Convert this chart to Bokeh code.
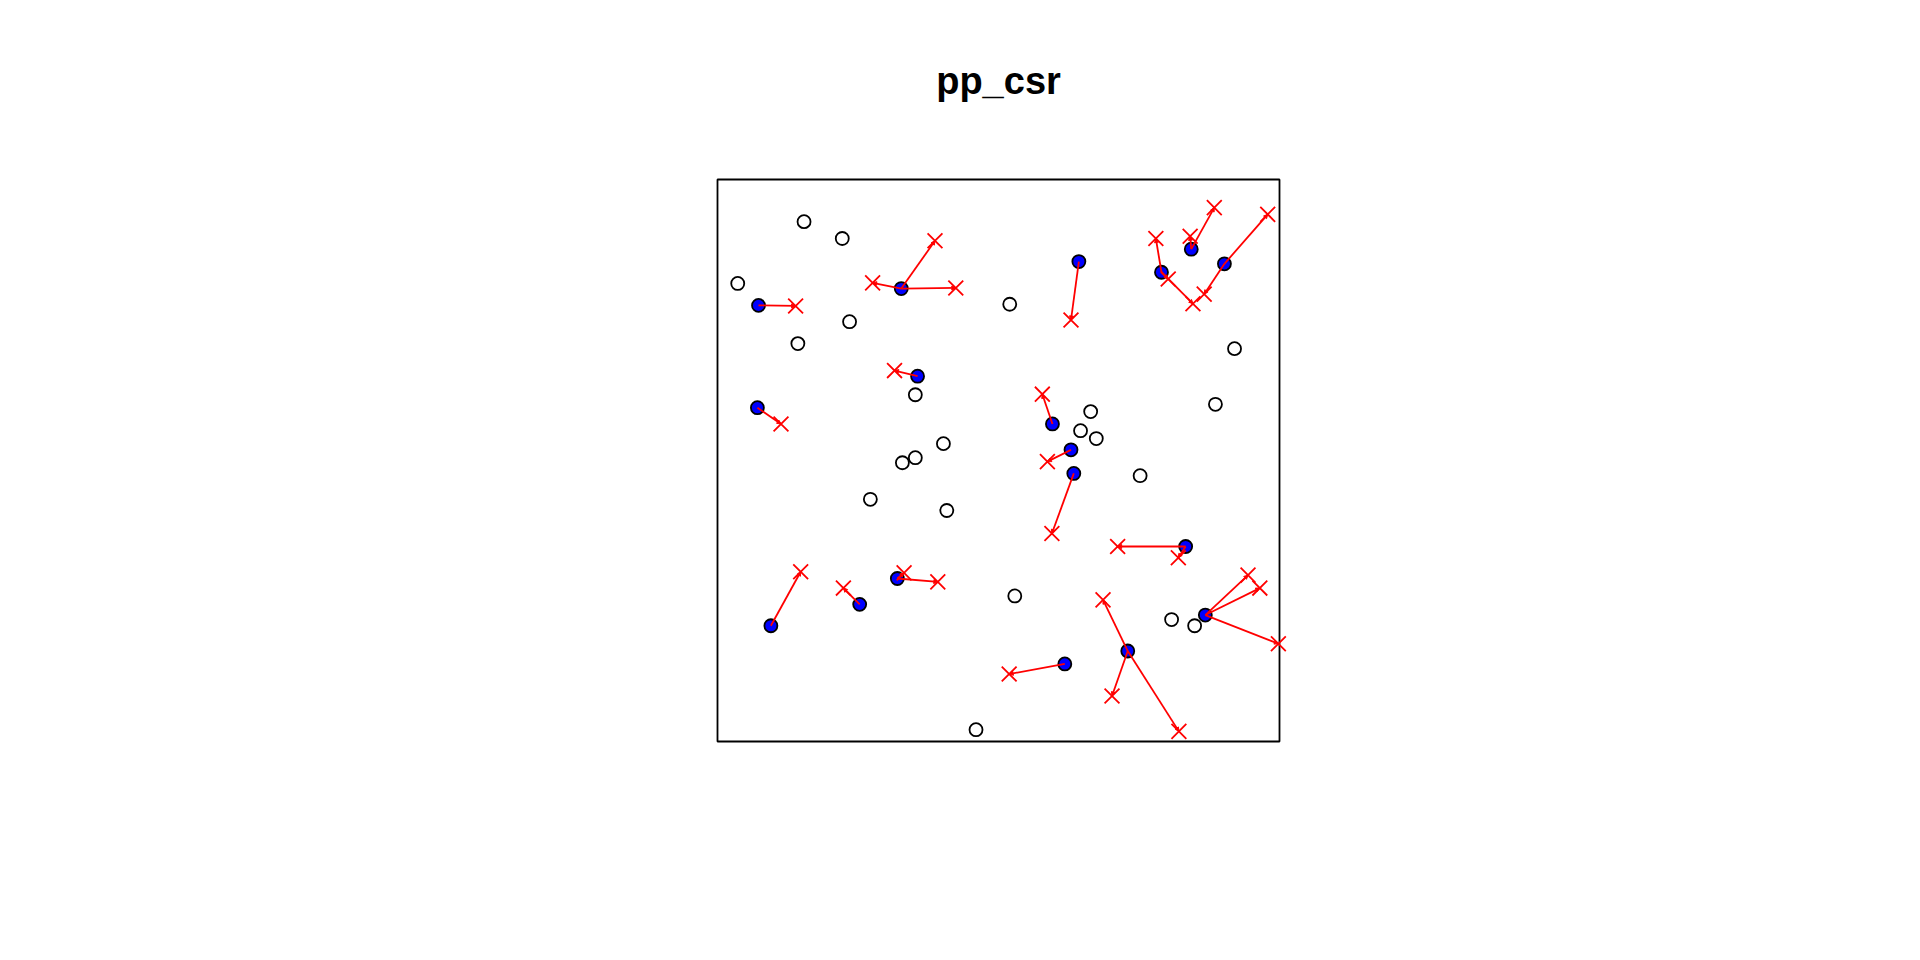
from bokeh.plotting import figure
from bokeh.models import Range1d, Arrow, NormalHead, ColumnDataSource
from bokeh.core.properties import value
from bokeh.embed import file_html
from bokeh.resources import INLINE

#-------------- data (unit square window) --------------#
# points of the pattern that are not selected
csr_x = [0.154, 0.222, 0.036, 0.235, 0.143, 0.352, 0.402, 0.352, 0.329, 0.272, 0.408,
         0.460, 0.520, 0.920, 0.886, 0.664, 0.646, 0.674, 0.752, 0.529, 0.808, 0.849]
csr_y = [0.925, 0.895, 0.815, 0.747, 0.708, 0.617, 0.530, 0.505, 0.496, 0.431, 0.411,
         0.021, 0.778, 0.699, 0.600, 0.587, 0.553, 0.539, 0.473, 0.259, 0.217, 0.206]

# selected points (filled blue)
sel_x = [0.073, 0.327, 0.356, 0.071, 0.643, 0.790, 0.843, 0.902, 0.596,
         0.629, 0.634, 0.833, 0.868, 0.730, 0.618, 0.095, 0.253, 0.320]
sel_y = [0.776, 0.806, 0.650, 0.594, 0.854, 0.835, 0.876, 0.850, 0.565,
         0.519, 0.477, 0.347, 0.225, 0.161, 0.138, 0.206, 0.244, 0.290]

# crosses and the selected point each one is joined to
cross_x = [0.139, 0.387, 0.424, 0.276, 0.315, 0.113, 0.629, 0.780, 0.802, 0.846,
           0.841, 0.884, 0.979, 0.866, 0.578, 0.587, 0.595, 0.712, 0.820, 0.944,
           0.965, 0.998, 0.686, 0.702, 0.821, 0.519, 0.148, 0.224, 0.332, 0.392]
cross_y = [0.775, 0.891, 0.807, 0.816, 0.660, 0.565, 0.750, 0.895, 0.823, 0.779,
           0.899, 0.950, 0.938, 0.796, 0.618, 0.498, 0.370, 0.347, 0.327, 0.296,
           0.273, 0.174, 0.252, 0.081, 0.018, 0.120, 0.302, 0.273, 0.300, 0.284]
cross_from = [0, 1, 1, 1, 2, 3, 4, 5, 5, 5,
              6, 6, 7, 7, 8, 9, 10, 11, 11, 12,
              12, 12, 13, 13, 13, 14, 15, 16, 17, 17]

title = "pp_csr"
#-------------------------------------------------------#

# the frame covers the whole canvas; the unit window sits at 717..1279 x 179..741 px
W, H = 1904, 944
win_left, win_top, win_size = 717, 179, 562
x_range = Range1d(-win_left / win_size, (W - win_left) / win_size)
y_range = Range1d(-(H - win_top - win_size) / win_size, 1 + win_top / win_size)

p = figure(width=W, height=H, output_backend="svg", toolbar_location=None,
           x_range=x_range, y_range=y_range,
           x_axis_location=None, y_axis_location=None, min_border=0)

p.grid.visible = False
p.outline_line_color = None
p.background_fill_color = "white"
p.border_fill_color = "white"

# window border
p.quad(left=[0], right=[1], bottom=[0], top=[1], fill_color=None,
       line_color="black", line_width=1.8)

# title above the window
p.text(x=[0.5], y=[1 + 99 / win_size], text=[title], text_align="center",
       text_baseline="alphabetic", text_font=value("Liberation Sans"),
       text_font_size="38px", text_font_style="bold", text_color="black")

# all other points as open circles
p.scatter(csr_x, csr_y, marker="circle", size=13, fill_color=None,
          line_color="black", line_width=1.8)

# selected points
p.scatter(sel_x, sel_y, marker="circle", size=13, fill_color="blue",
          line_color="black", line_width=1.8)

# arrows from selected points to crosses
arrows = ColumnDataSource(dict(
    x0=[sel_x[i] for i in cross_from], y0=[sel_y[i] for i in cross_from],
    x1=cross_x, y1=cross_y))
p.add_layout(Arrow(source=arrows, x_start="x0", y_start="y0", x_end="x1", y_end="y1",
                   line_color="red", line_width=1.8,
                   end=NormalHead(size=4, fill_color="red", line_color="red", line_width=1)))

p.scatter(cross_x, cross_y, marker="x", size=21, line_color="red", line_width=1.8)

open("out.html", "w").write(file_html(p, INLINE))
